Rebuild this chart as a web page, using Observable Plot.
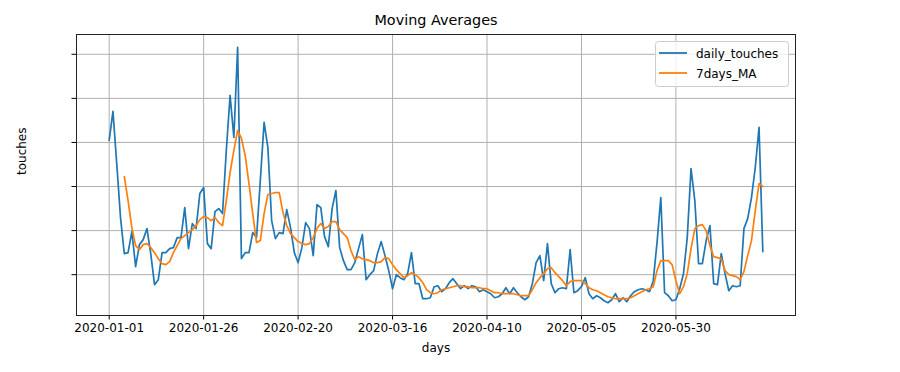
<!DOCTYPE html>
<html>
<head>
<meta charset="utf-8">
<script src="https://cdn.jsdelivr.net/npm/d3@7"></script>
<script src="https://cdn.jsdelivr.net/npm/@observablehq/plot@0.6"></script>
<style>
  html, body { margin: 0; padding: 0; background: white; }
  #chart { position: relative; width: 900px; height: 372px; }
</style>
</head>
<body>
<div id="chart"></div>
<script>
// ---- data ----
const startDate = "2020-01-01";
const seriesNames = ["daily_touches", "7days_MA"];
const seriesColors = ["#1f77b4", "#ff7f0e"];
const dailyTouches = [
  178,207,155,101,65,66,87,52,74,79,
  90,65,34,39,66,66,70,71,81,81,
  111,70,95,90,125,131,75,70,107,110,
  105,168,223,181,271,60,66,66,86,81,
  138,196,171,98,80,86,85,109,91,66,
  56,71,96,90,63,114,111,82,72,110,
  128,71,58,49,49,56,70,84,39,44,
  48,65,77,63,48,30,44,41,39,45,
  66,35,35,20,20,21,32,33,27,30,
  36,40,35,30,33,30,33,32,27,29,
  27,25,21,22,25,31,25,31,26,22,
  19,22,35,56,63,38,75,35,26,30,
  31,30,69,26,28,32,41,25,20,23,
  21,18,16,19,25,17,21,17,23,27,
  29,30,29,27,38,76,121,26,23,18,
  19,30,45,81,150,118,55,55,78,93,
  35,34,65,45,28,33,32,33,90,100,
  121,151,191,67
];
const maStartDay = 4;
const movingAverage = [
  142,118,91,73,69,74,75,71,66,60,
  55,54,57,66,73,80,83,86,89,93,
  99,102,101,98,101,96,93,118,146,168,
  188,180,163,135,105,76,78,105,124,125,
  126,126,106,93,85,81,77,75,74,75,
  81,90,95,90,92,97,97,89,85,81,
  68,59,62,60,59,58,56,56,57,61,
  60,54,49,45,41,43,46,44,41,36,
  29,26,25,26,29,30,31,32,33,33,
  32,32,31,31,31,30,30,28,26,26,
  25,25,25,25,24,23,23,23,29,36,
  41,45,50,51,46,42,38,33,37,38,
  38,38,35,31,29,28,26,24,22,21,
  20,20,20,20,21,23,25,27,29,30,
  32,48,58,58,58,54,38,25,32,45,
  70,90,93,94,88,73,62,61,60,48,
  44,43,42,39,47,63,78,108,135,132
];
const xTickLabels = ["2020-01-01","2020-01-26","2020-02-20","2020-03-16","2020-04-10","2020-05-05","2020-05-30"];
const yTickValues = [44, 88, 132, 176, 220, 264];

// ---- build tables ----
const DAY = 864e5;
const t0 = Date.parse(startDate + "T00:00:00Z");
const dailyRows = dailyTouches.map((v, i) => ({date: new Date(t0 + i * DAY), value: v}));
const maRows = movingAverage.map((v, i) => ({date: new Date(t0 + (i + maStartDay) * DAY), value: v}));
const xTicks = xTickLabels.map(s => new Date(s + "T00:00:00Z"));
const nDays = dailyTouches.length - 1;
const pad = nDays * 0.05;
const allVals = dailyTouches.concat(movingAverage);
const vmin = d3.min(allVals), vmax = d3.max(allVals);
const vpad = (vmax - vmin) * 0.05;

const chart = Plot.plot({
  width: 900,
  height: 372,
  marginLeft: 76,
  marginRight: 105,
  marginTop: 34,
  marginBottom: 57,
  style: {fontFamily: "DejaVu Sans", fontSize: "12px", background: "white", color: "black"},
  x: {type: "utc", domain: [new Date(t0 - pad * DAY), new Date(t0 + (nDays + pad) * DAY)],
      ticks: xTicks, tickFormat: d3.utcFormat("%Y-%m-%d"), tickSize: 4.5, tickPadding: 3.5, label: null},
  y: {domain: [vmin - vpad, vmax + vpad], ticks: yTickValues, tickFormat: () => "", tickSize: 4.5, label: null},
  marks: [
    Plot.gridX(xTicks, {stroke: "#b0b0b0", strokeOpacity: 1, strokeWidth: 1}),
    Plot.gridY(yTickValues, {stroke: "#b0b0b0", strokeOpacity: 1, strokeWidth: 1}),
    Plot.line(dailyRows, {x: "date", y: "value", stroke: seriesColors[0], strokeWidth: 1.7}),
    Plot.line(maRows, {x: "date", y: "value", stroke: seriesColors[1], strokeWidth: 1.7}),
    Plot.frame({stroke: "#222", strokeWidth: 1}),
    Plot.text(["Moving Averages"], {frameAnchor: "top", lineAnchor: "middle", dy: -14, fontSize: 14.4}),
    Plot.text(["days"], {frameAnchor: "bottom", lineAnchor: "middle", dy: 33, fontSize: 12}),
    Plot.text(["touches"], {frameAnchor: "left", lineAnchor: "middle", dx: -54, rotate: -90, fontSize: 12})
  ]
});
document.getElementById("chart").appendChild(chart);

// ---- legend (matplotlib style, upper right) ----
const svg = d3.select(chart);
const lg = svg.append("g").attr("font-family", "DejaVu Sans").attr("font-size", 12)
  .attr("text-anchor", "start");
lg.append("rect").attr("x", 655.5).attr("y", 41.5).attr("width", 133).attr("height", 45)
  .attr("rx", 3).attr("fill", "white").attr("fill-opacity", 0.8).attr("stroke", "#cccccc");
seriesNames.forEach((name, i) => {
  const yy = 53 + i * 20;
  lg.append("line").attr("x1", 659).attr("x2", 687).attr("y1", yy).attr("y2", yy)
    .attr("stroke", seriesColors[i]).attr("stroke-width", 1.8);
  lg.append("text").attr("x", 696).attr("y", yy + 1).attr("dominant-baseline", "middle")
    .attr("text-anchor", "start").attr("fill", "black").text(name);
});
</script>
</body>
</html>
